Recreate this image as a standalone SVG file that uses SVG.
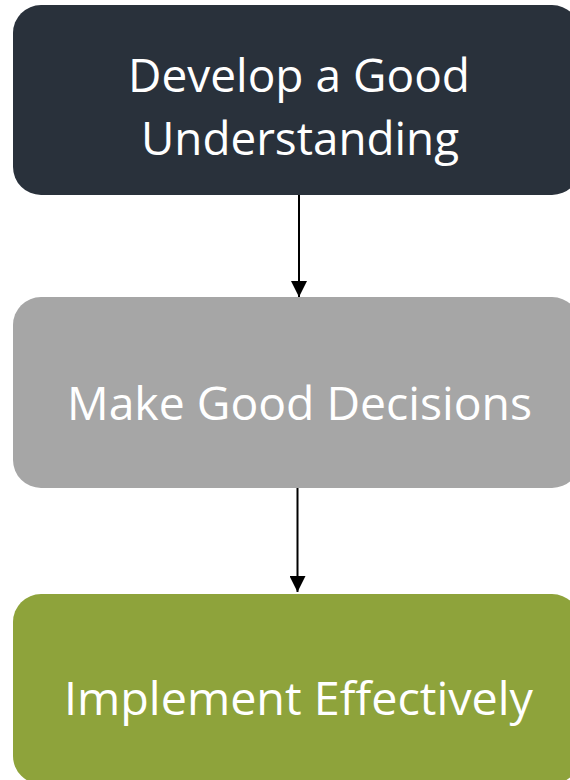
<svg xmlns="http://www.w3.org/2000/svg" width="570" height="780" viewBox="0 0 570 780">
<defs>
<style>
.lbl{font-family:"Open Sans","Noto Sans","Liberation Sans",sans-serif;font-size:45px;fill:#FFFFFF;}
.conn{stroke:#000000;stroke-width:2;fill:none;}
</style>
<marker id="ah" markerUnits="userSpaceOnUse" markerWidth="16" markerHeight="16" viewBox="0 0 16 16" refX="16" refY="8" orient="auto">
<path d="M0,0 L16,8 L0,16 Z" fill="#000000"/>
</marker>
</defs>
<rect width="570" height="780" fill="#FFFFFF"/>
<g id="connectors">
<line class="conn" x1="299" y1="195" x2="299" y2="297" marker-end="url(#ah)"/>
<line class="conn" x1="297.5" y1="488" x2="297.5" y2="592" marker-end="url(#ah)"/>
</g>
<g id="node1">
<rect x="13" y="5" width="567" height="190" rx="28" ry="28" fill="#29313B"/>
<text class="lbl" x="299" y="92" text-anchor="middle" textLength="342" lengthAdjust="spacingAndGlyphs">Develop a Good</text>
<text class="lbl" x="300" y="155" text-anchor="middle" textLength="318" lengthAdjust="spacingAndGlyphs">Understanding</text>
</g>
<g id="node2">
<rect x="13" y="297" width="567" height="191" rx="28" ry="28" fill="#A6A6A6"/>
<text class="lbl" x="299.5" y="420" text-anchor="middle" textLength="465" lengthAdjust="spacingAndGlyphs">Make Good Decisions</text>
</g>
<g id="node3">
<rect x="13" y="594" width="567" height="190" rx="28" ry="28" fill="#8EA33B"/>
<text class="lbl" x="298.5" y="715" text-anchor="middle" textLength="469" lengthAdjust="spacingAndGlyphs">Implement Effectively</text>
</g>
</svg>
